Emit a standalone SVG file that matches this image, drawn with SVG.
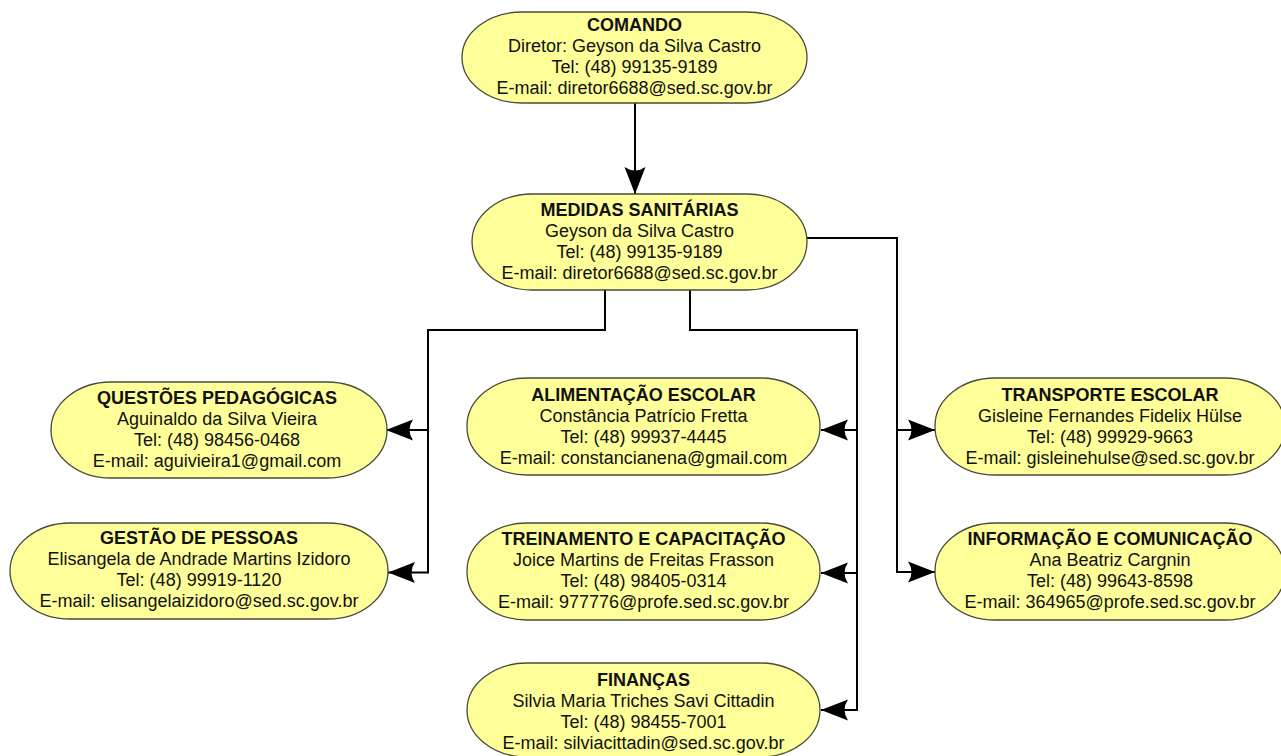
<svg xmlns="http://www.w3.org/2000/svg" width="1281" height="756" viewBox="0 0 1281 756">
<style>
.node{fill:#ffff99;stroke:#4a4a3a;stroke-width:1.3}
.t{font-family:"Liberation Sans",Arial,sans-serif;font-size:18px;fill:#111;text-anchor:middle}
.b{font-weight:bold}
.c{fill:none;stroke:#000;stroke-width:2;marker-end:url(#arr)}
</style>
<defs>
<marker id="arr" markerUnits="userSpaceOnUse" markerWidth="28" markerHeight="22" refX="27" refY="11" orient="auto" viewBox="0 0 28 22">
<path d="M27,11 L0,0.5 Q7,11 0,21.5 Z" fill="#000"/>
</marker>
</defs>
<rect width="1281" height="756" fill="#fff"/>
<g id="connectors">
<path class="c" d="M635,103 V194"/>
<path class="c" d="M605,290 V330 H428 V430 H386"/>
<path class="c" d="M605,290 V330 H428 V572.5 H388"/>
<path class="c" d="M690,290 V330 H857 V430 H821"/>
<path class="c" d="M690,290 V330 H857 V573 H821"/>
<path class="c" d="M690,290 V330 H857 V710 H821"/>
<path class="c" d="M807,238 H897 V430 H935"/>
<path class="c" d="M807,238 H897 V572 H935"/>
</g>
<g id="comando">
<rect class="node" x="462" y="12" width="345" height="91" rx="60" ry="48"/>
<text class="t b" x="634.5" y="31">COMANDO</text>
<text class="t" x="634.5" y="52">Diretor: Geyson da Silva Castro</text>
<text class="t" x="634.5" y="73">Tel: (48) 99135-9189</text>
<text class="t" x="634.5" y="94">E-mail: diretor6688@sed.sc.gov.br</text>
</g>
<g id="medidas">
<rect class="node" x="472" y="194" width="335" height="96" rx="60" ry="48"/>
<text class="t b" x="639.5" y="216">MEDIDAS SANITÁRIAS</text>
<text class="t" x="639.5" y="237">Geyson da Silva Castro</text>
<text class="t" x="639.5" y="258">Tel: (48) 99135-9189</text>
<text class="t" x="639.5" y="279">E-mail: diretor6688@sed.sc.gov.br</text>
</g>
<g id="questoes">
<rect class="node" x="51" y="382" width="336" height="96" rx="60" ry="48"/>
<text class="t b" x="217" y="403.5">QUESTÕES PEDAGÓGICAS</text>
<text class="t" x="217" y="424.5">Aguinaldo da Silva Vieira</text>
<text class="t" x="217" y="445.5">Tel: (48) 98456-0468</text>
<text class="t" x="217" y="466.5">E-mail: aguivieira1@gmail.com</text>
</g>
<g id="gestao">
<rect class="node" x="10" y="523" width="378" height="96" rx="60" ry="48"/>
<text class="t b" x="199" y="544">GESTÃO DE PESSOAS</text>
<text class="t" x="199" y="565">Elisangela de Andrade Martins Izidoro</text>
<text class="t" x="199" y="586">Tel: (48) 99919-1120</text>
<text class="t" x="199" y="607">E-mail: elisangelaizidoro@sed.sc.gov.br</text>
</g>
<g id="alimentacao">
<rect class="node" x="467" y="378" width="353" height="97" rx="60" ry="48"/>
<text class="t b" x="643.5" y="400.5">ALIMENTAÇÃO ESCOLAR</text>
<text class="t" x="643.5" y="421.5">Constância Patrício Fretta</text>
<text class="t" x="643.5" y="442.5">Tel: (48) 99937-4445</text>
<text class="t" x="643.5" y="463.5">E-mail: constancianena@gmail.com</text>
</g>
<g id="treinamento">
<rect class="node" x="467" y="523" width="353" height="97" rx="60" ry="48"/>
<text class="t b" x="643.5" y="545">TREINAMENTO E CAPACITAÇÃO</text>
<text class="t" x="643.5" y="566">Joice Martins de Freitas Frasson</text>
<text class="t" x="643.5" y="587">Tel: (48) 98405-0314</text>
<text class="t" x="643.5" y="608">E-mail: 977776@profe.sed.sc.gov.br</text>
</g>
<g id="financas">
<rect class="node" x="467" y="663" width="353" height="94" rx="60" ry="47"/>
<text class="t b" x="643.5" y="686">FINANÇAS</text>
<text class="t" x="643.5" y="707">Silvia Maria Triches Savi Cittadin</text>
<text class="t" x="643.5" y="728">Tel: (48) 98455-7001</text>
<text class="t" x="643.5" y="749">E-mail: silviacittadin@sed.sc.gov.br</text>
</g>
<g id="transporte">
<rect class="node" x="935" y="378" width="350" height="97" rx="60" ry="48"/>
<text class="t b" x="1110" y="400.5">TRANSPORTE ESCOLAR</text>
<text class="t" x="1110" y="421.5">Gisleine Fernandes Fidelix Hülse</text>
<text class="t" x="1110" y="442.5">Tel: (48) 99929-9663</text>
<text class="t" x="1110" y="463.5">E-mail: gisleinehulse@sed.sc.gov.br</text>
</g>
<g id="informacao">
<rect class="node" x="935" y="523" width="350" height="97" rx="60" ry="48"/>
<text class="t b" x="1110" y="545">INFORMAÇÃO E COMUNICAÇÃO</text>
<text class="t" x="1110" y="566">Ana Beatriz Cargnin</text>
<text class="t" x="1110" y="587">Tel: (48) 99643-8598</text>
<text class="t" x="1110" y="608">E-mail: 364965@profe.sed.sc.gov.br</text>
</g>
</svg>
